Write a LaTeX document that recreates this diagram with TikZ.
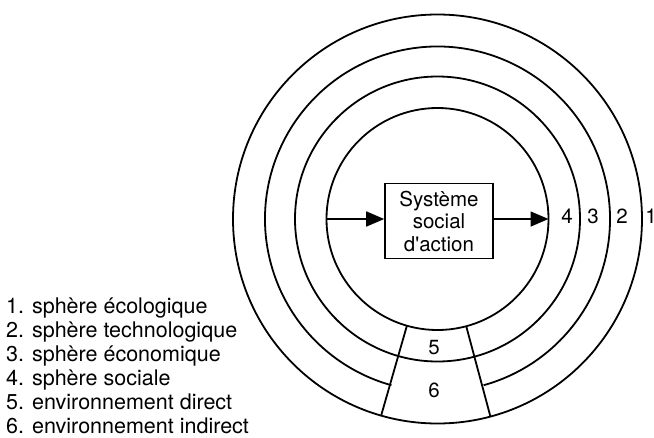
\documentclass[tikz,border=0pt]{standalone}
\usepackage{fontspec}
\newfontfamily\hfont{TeX Gyre Heros}
\usetikzlibrary{arrows.meta}
\begin{document}
\begin{tikzpicture}[x=1pt,y=1pt,
  ring/.style={draw, circle, line width=1.8pt, inner sep=0pt, outer sep=0pt},
  edge/.style={line width=1.8pt},
  lbl/.style={font=\hfont\fontsize{20.5}{24}\selectfont, inner sep=0pt},
  legend/.style={inner sep=0pt, anchor=base west, font=\hfont\fontsize{21.5}{24}\selectfont},
  flow/.style={line width=1.6pt, -{Triangle[length=18pt,width=15pt]}},
]
\useasboundingbox (0,0) rectangle (654,-437);
\fill[white] (0,0) rectangle (654,-437);
\coordinate (O) at (437.5,-219);

% concentric spheres
\node[ring, minimum size=222pt] (s4) at (O) {};
\node[ring, minimum size=285pt] (s3) at (O) {};
\node[ring, minimum size=409pt] (s1) at (O) {};
% sphere boundary interrupted by the environment sector
\draw[edge, shift={(O)}] (285.5:172.5) arc[start angle=285.5, end angle=614.5, radius=172.5];

% environment sector
\draw[edge] (s4.254.5) -- (s1.254.5);
\draw[edge] (s4.285.5) -- (s1.285.5);
\node[lbl] (e5) at (434,-348) {5};
\node[lbl] (e6) at (434,-390) {6};

% central system
\node[draw, line width=1.6pt, minimum width=108pt, minimum height=75pt, inner sep=0pt,
      align=center, font=\hfont\fontsize{20.5}{22.5}\selectfont] (sys) at (439,-221) {Système\\social\\d'action};
\draw[flow] (s4.west) -- (s4.west -| sys.west);
\draw[flow] (sys.east |- s4.east) -- (s4.east);

% sphere numbers
\node[lbl, anchor=base] (n4) at (567,-223) {4};
\node[lbl, anchor=base] (n3) at (593,-223) {3};
\node[lbl, anchor=base] (n2) at (622,-223) {2};
\node[lbl, anchor=base] (n1) at (651,-223) {1};

% legend
\node[legend] (k1) at (6,-313.5) {1. sphère écologique};
\node[legend] (k2) at (6,-337.5) {2. sphère technologique};
\node[legend] (k3) at (6,-361.5) {3. sphère économique};
\node[legend] (k4) at (6,-385.5) {4. sphère sociale};
\node[legend] (k5) at (6,-409.5) {5. environnement direct};
\node[legend] (k6) at (6,-433.5) {6. environnement indirect};
\end{tikzpicture}
\end{document}
